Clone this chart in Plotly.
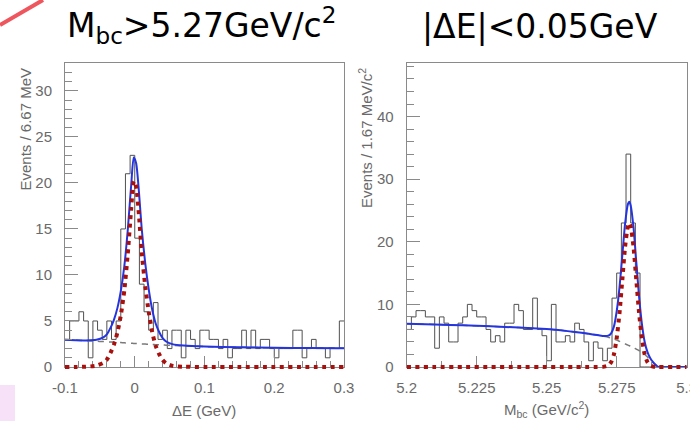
import numpy as np
import plotly.graph_objects as go

# ---------------- data ----------------
# Delta E distribution (Mbc > 5.27 GeV/c^2), 60 bins of 6.67 MeV from -0.1 to 0.3 GeV
de_lo, de_hi = -0.1, 0.3
de_counts = [3, 5, 5, 6, 5, 1, 5, 4, 3, 5,
             3, 5, 15, 21, 23, 14, 9, 6, 4, 7,
             3, 4, 2, 4, 4, 1, 4, 3, 2, 4,
             4, 3, 3, 2, 3, 1, 2, 2, 4, 2,
             4, 2, 3, 3, 2, 1, 2, 2, 2, 4,
             4, 1, 2, 3, 2, 2, 1, 2, 2, 5]

# fit components sampled along Delta E
de_curve_x = [-0.1, -0.085, -0.07, -0.055, -0.045, -0.04, -0.035, -0.03, -0.025, -0.02,
              -0.015, -0.01, -0.005, -0.0015, 0.002, 0.006, 0.01, 0.015, 0.02, 0.025,
              0.03, 0.035, 0.04, 0.045, 0.055, 0.07, 0.1, 0.15, 0.2, 0.25, 0.3]
de_signal = [0, 0.01, 0.03, 0.15, 0.45, 0.8, 1.5, 2.4, 3.7, 5.6,
             8.3, 12.3, 17.3, 20.2, 19.6, 16.5, 12.5, 8.8, 6.0, 3.8,
             2.3, 1.4, 0.75, 0.4, 0.12, 0.03, 0, 0, 0, 0, 0]
de_background = [2.95, 2.9, 2.86, 2.8, 2.76, 2.74, 2.72, 2.7, 2.67, 2.65,
                 2.63, 2.61, 2.58, 2.56, 2.55, 2.53, 2.51, 2.49, 2.47, 2.45,
                 2.43, 2.41, 2.39, 2.37, 2.34, 2.3, 2.22, 2.14, 2.09, 2.06, 2.05]

# Mbc distribution (|Delta E| < 0.05 GeV), 60 bins of 1.67 MeV/c^2 from 5.2 to 5.3 GeV/c^2
mbc_lo, mbc_hi = 5.2, 5.3
mbc_counts = [6, 8, 9, 9, 8, 8, 3, 8, 7, 4,
              4, 7, 8, 10, 9, 8, 8, 6, 4, 5,
              4, 7, 7, 10, 9, 6, 6, 11, 6, 5,
              1, 10, 4, 4, 5, 4, 7, 6, 4, 1,
              4, 3, 1, 3, 11, 15, 23, 34, 23, 15,
              0, 0, 0, 0, 0, 0, 0, 0, 0, 0]

mbc_curve_x = [5.2, 5.21, 5.22, 5.23, 5.24, 5.25, 5.255, 5.26, 5.265, 5.268,
               5.27, 5.272, 5.273, 5.274, 5.275, 5.276, 5.277, 5.278, 5.279, 5.2795,
               5.28, 5.281, 5.282, 5.283, 5.284, 5.285, 5.286, 5.287, 5.288, 5.289,
               5.29, 5.295, 5.3]
mbc_signal = [0, 0, 0, 0, 0, 0, 0, 0, 0, 0,
              0.02, 0.26, 0.78, 2.0, 4.6, 8.6, 13.9, 19.2, 22.5, 23.0,
              22.5, 19.2, 13.9, 8.6, 4.6, 2.0, 0.78, 0.26, 0.07, 0.02,
              0, 0, 0]
mbc_background = [6.9, 6.8, 6.65, 6.5, 6.3, 6.05, 5.85, 5.6, 5.3, 5.1,
                  4.95, 4.75, 4.6, 4.45, 4.3, 4.1, 3.9, 3.7, 3.5, 3.4,
                  3.3, 3.1, 2.85, 2.6, 2.3, 2.0, 1.6, 1.15, 0.7, 0.3,
                  0, 0, 0]

# axis ticks
de_ticks = [-0.1, 0, 0.1, 0.2, 0.3]
de_ticktext = ["-0.1", "0", "0.1", "0.2", "0.3"]
mbc_ticks = [5.2, 5.225, 5.25, 5.275, 5.3]
mbc_ticktext = ["5.2", "5.225", "5.25", "5.275", "5.3"]
de_yticks = [0, 5, 10, 15, 20, 25, 30]
mbc_yticks = [0, 10, 20, 30, 40]

# ---------------- layout geometry ----------------
W, H = 690, 421
def px_x(p):
    return p / W
def px_y(p):
    return 1 - p / H

L_DOM = [px_x(65), px_x(344)]
R_DOM = [px_x(406.7), px_x(686.7)]
Y_DOM = [px_y(367), px_y(63.3)]
DE_YMAX = 33
MBC_YMAX = 48.5
PAD = 6 / H  # extra room below zero so dotted curves are not cut at the axis

HIST_COL = "#505050"
FIT_COL = "#2435e0"
SIG_COL = "#a8100e"
BG_COL = "#7a7a7a"
FRAME_COL = "#8a8a8a"
TICK_FONT = dict(family="Liberation Sans, Arial, sans-serif", size=15, color="#6a6a6a")


def step_xy(lo, hi, counts):
    n = len(counts)
    width = (hi - lo) / n
    edges = [lo + i * width for i in range(n + 1)]
    return edges, list(counts) + [counts[-1]]


fig = go.Figure()

# ---- left: Delta E ----
ex, ey = step_xy(de_lo, de_hi, de_counts)
fig.add_trace(go.Scatter(x=ex, y=ey, mode="lines", line=dict(color=HIST_COL, width=1, shape="hv"),
                         xaxis="x", yaxis="y", showlegend=False, hoverinfo="skip"))
fig.add_trace(go.Scatter(x=de_curve_x, y=de_background, mode="lines",
                         line=dict(color=BG_COL, width=1.5, dash="6px,5px", shape="spline", smoothing=0.6),
                         xaxis="x", yaxis="y", showlegend=False))
de_total = (np.array(de_signal) + np.array(de_background)).tolist()
fig.add_trace(go.Scatter(x=de_curve_x, y=de_total, mode="lines",
                         line=dict(color=FIT_COL, width=2, shape="spline", smoothing=0.6),
                         xaxis="x", yaxis="y", showlegend=False))
fig.add_trace(go.Scatter(x=de_curve_x, y=de_signal, mode="lines",
                         line=dict(color=SIG_COL, width=4, dash="4px,4.5px", shape="spline", smoothing=0.6),
                         xaxis="x3", yaxis="y3", showlegend=False))

# ---- right: Mbc ----
mx, my = step_xy(mbc_lo, mbc_hi, mbc_counts)
fig.add_trace(go.Scatter(x=mx, y=my, mode="lines", line=dict(color=HIST_COL, width=1, shape="hv"),
                         xaxis="x2", yaxis="y2", showlegend=False, hoverinfo="skip"))
fig.add_trace(go.Scatter(x=mbc_curve_x, y=mbc_background, mode="lines",
                         line=dict(color=BG_COL, width=1.5, dash="6px,5px", shape="spline", smoothing=0.6),
                         xaxis="x2", yaxis="y2", showlegend=False))
mbc_total = (np.array(mbc_signal) + np.array(mbc_background)).tolist()
fig.add_trace(go.Scatter(x=mbc_curve_x, y=mbc_total, mode="lines",
                         line=dict(color=FIT_COL, width=2, shape="spline", smoothing=0.6),
                         xaxis="x2", yaxis="y2", showlegend=False))
fig.add_trace(go.Scatter(x=mbc_curve_x, y=mbc_signal, mode="lines",
                         line=dict(color=SIG_COL, width=4, dash="4px,4.5px", shape="spline", smoothing=0.6),
                         xaxis="x4", yaxis="y4", showlegend=False))


def xaxis_style(dom, rng, ticks, text, minor_step, anchor):
    return dict(domain=dom, range=rng, anchor=anchor, tickmode="array", tickvals=ticks, ticktext=text,
                ticks="inside", ticklen=11, tickwidth=1, tickcolor=FRAME_COL,
                minor=dict(ticks="inside", ticklen=6, dtick=minor_step, tick0=rng[0], tickcolor=FRAME_COL),
                showline=True, linecolor=FRAME_COL, linewidth=1, mirror=True, automargin=False,
                ticklabeloverflow="allow",
                showgrid=False, zeroline=False, tickfont=TICK_FONT, ticklabelstandoff=7)


def yaxis_style(dom, ymax, ticks, minor_step, anchor):
    return dict(domain=dom, range=[0, ymax], anchor=anchor, tickmode="array", tickvals=ticks,
                ticktext=[str(t) for t in ticks],
                ticks="inside", ticklen=13, tickwidth=1, tickcolor=FRAME_COL,
                minor=dict(ticks="inside", ticklen=7, dtick=minor_step, tick0=0, tickcolor=FRAME_COL),
                showline=True, linecolor=FRAME_COL, linewidth=1, mirror=True, automargin=False,
                showgrid=False, zeroline=False, tickfont=TICK_FONT, ticklabelstandoff=9)


def overlay_y(ymax, anchor):
    frac = PAD / (Y_DOM[1] - Y_DOM[0])
    return dict(domain=[Y_DOM[0] - PAD, Y_DOM[1]], range=[-ymax * frac, ymax], anchor=anchor,
                visible=False, showgrid=False, zeroline=False, automargin=False)


def overlay_x(dom, rng, anchor):
    return dict(domain=dom, range=rng, anchor=anchor, visible=False, showgrid=False,
                zeroline=False, automargin=False)


fig.update_layout(
    width=W, height=H, margin=dict(l=0, r=0, t=0, b=0, autoexpand=False),
    paper_bgcolor="white", plot_bgcolor="rgba(0,0,0,0)",
    xaxis=xaxis_style(L_DOM, [de_lo, de_hi], de_ticks, de_ticktext, 0.02, "y"),
    yaxis=yaxis_style(Y_DOM, DE_YMAX, de_yticks, 1, "x"),
    xaxis2=xaxis_style(R_DOM, [mbc_lo, mbc_hi], mbc_ticks, mbc_ticktext, 0.0125, "y2"),
    yaxis2=yaxis_style(Y_DOM, MBC_YMAX, mbc_yticks, 2, "x2"),
    xaxis3=overlay_x(L_DOM, [de_lo, de_hi], "y3"),
    yaxis3=overlay_y(DE_YMAX, "x3"),
    xaxis4=overlay_x(R_DOM, [mbc_lo, mbc_hi], "y4"),
    yaxis4=overlay_y(MBC_YMAX, "x4"),
)

TITLE_FONT = dict(family="DejaVu Sans, sans-serif", size=33, color="black")
LABEL_FONT = dict(family="Liberation Sans, Arial, sans-serif", size=15, color="#6a6a6a")

annotations = [
    dict(text="M<sub>bc</sub>&gt;5.27GeV/c<sup>2</sup>", x=px_x(201), y=px_y(26), font=TITLE_FONT),
    dict(text="|ΔE|&lt;0.05GeV", x=px_x(540), y=px_y(27), font=TITLE_FONT),
    dict(text="ΔE (GeV)", x=px_x(204.5), y=px_y(410), font=LABEL_FONT),
    dict(text="M<sub>bc</sub> (GeV/c<sup>2</sup>)", x=px_x(546.7), y=px_y(409), font=LABEL_FONT),
    dict(text="Events / 6.67 MeV", x=px_x(25), y=px_y(66), yanchor="top", textangle=-90, font=LABEL_FONT),
    dict(text="Events / 1.67 MeV/c<sup>2</sup>", x=px_x(365), y=px_y(66), yanchor="top", textangle=-90,
         font=LABEL_FONT),
]
for a in annotations:
    a.setdefault("xanchor", "center")
    a.setdefault("yanchor", "middle")
    fig.add_annotation(xref="paper", yref="paper", showarrow=False, **a)

# slide decorations: red stroke in the corner and a faint pink patch
fig.add_shape(type="line", xref="paper", yref="paper", x0=0, y0=px_y(25), x1=px_x(43), y1=1,
              line=dict(color="rgba(235,55,65,0.85)", width=4))
fig.add_shape(type="rect", xref="paper", yref="paper", x0=0, y0=0, x1=px_x(15), y1=px_y(385),
              fillcolor="rgba(240,205,245,0.6)", line=dict(width=0), layer="below")

fig.write_html("out.html")
